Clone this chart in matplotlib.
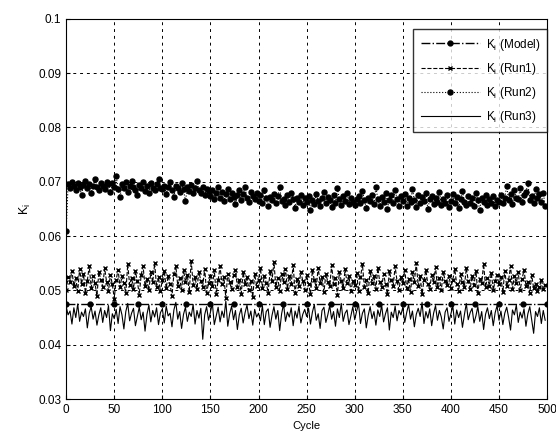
import numpy as np
import matplotlib.pyplot as plt

plt.rcParams['font.family'] = ['Liberation Sans', 'DejaVu Sans']

cycles = list(range(0, 500, 2))

run2 = [
    610, 695, 688, 700, 692, 685, 698, 690, 675, 694, 701, 688, 696, 680, 692, 705, 690, 684, 698, 693, 687, 700, 695, 682, 697,
    690, 710, 686, 672, 695, 688, 699, 681, 693, 702, 690, 685, 676, 694, 688, 700, 683, 692, 679, 697, 689, 684, 695, 705, 688,
    686, 693, 678, 690, 700, 684, 672, 692, 688, 681, 697, 686, 664, 690, 683, 694, 679, 688, 702, 685, 680, 691, 676, 687, 683,
    674, 684, 668, 679, 690, 671, 682, 665, 677, 686, 669, 680, 672, 659, 676, 684, 667, 678, 690, 670, 663, 681, 674, 668, 679,
    665, 676, 660, 684, 670, 655, 672, 666, 678, 661, 673, 690, 664, 669, 657, 675, 662, 680, 668, 652, 671, 663, 676, 658, 670,
    662, 673, 648, 667, 659, 678, 664, 656, 670, 681, 660, 672, 666, 654, 675, 661, 688, 668, 657, 673, 665, 680, 659, 670, 663,
    657, 669, 674, 660, 683, 666, 652, 671, 664, 676, 659, 690, 668, 655, 672, 663, 679, 650, 667, 675, 661, 684, 669, 656, 673,
    664, 678, 655, 670, 662, 686, 667, 653, 675, 660, 672, 664, 680, 650, 668, 674, 659, 671, 663, 682, 657, 669, 661, 676, 654,
    665, 678, 660, 672, 652, 668, 683, 663, 657, 674, 661, 670, 655, 679, 666, 648, 671, 662, 676, 658, 669, 660, 673, 656, 667,
    662, 675, 660, 670, 693, 666, 678, 659, 684, 671, 668, 688, 663, 676, 681, 697, 667, 674, 660, 686, 670, 677, 662, 680, 655,
]

run1 = [
    500, 525, 515, 536, 508, 522, 498, 540, 512, 530, 495, 518, 545, 505, 527, 513, 490, 534, 520, 507, 541, 516, 499, 529, 511,
    485, 520, 538, 506, 526, 514, 495, 548, 510, 523, 503, 535, 517, 492, 529, 544, 508, 521, 500, 533, 515, 550, 506, 524, 498,
    519, 536, 504, 527, 512, 489, 531, 545, 509, 522, 501, 538, 516, 528, 497, 555, 510, 525, 503, 534, 518, 507, 540, 496, 513,
    526, 508, 537, 493, 519, 544, 511, 524, 486, 531, 515, 502, 529, 538, 506, 520, 494, 533, 512, 525, 500, 518, 488, 530, 509,
    520, 541, 505, 527, 514, 496, 536, 518, 552, 507, 523, 499, 531, 515, 540, 503, 526, 512, 547, 495, 521, 509, 534, 517, 501,
    528, 511, 494, 537, 519, 505, 542, 514, 524, 497, 530, 516, 508, 546, 512, 522, 491, 533, 518, 504, 539, 513, 526, 499, 517,
    510, 532, 498, 524, 548, 507, 519, 495, 536, 514, 527, 502, 541, 516, 506, 530, 512, 493, 535, 520, 509, 544, 517, 501, 525,
    513, 538, 504, 521, 497, 533, 516, 550, 508, 526, 494, 519, 537, 511, 503, 529, 515, 543, 506, 522, 500, 534, 518, 510, 527,
    505, 520, 539, 512, 498, 530, 515, 507, 541, 518, 502, 526, 510, 535, 496, 521, 513, 549, 506, 523, 509, 532, 501, 517, 528,
    511, 524, 497, 536, 508, 519, 545, 503, 527, 514, 533, 500, 521, 538, 509, 516, 495, 528, 504, 512, 499, 506, 520, 503, 510,
]

run3 = [
    470, 455, 462, 438, 468, 450, 475, 443, 460, 452, 466, 431, 458, 470, 447, 462, 436, 455, 468, 441, 463, 450, 472, 426, 457,
    448, 465, 439, 470, 455, 429, 461, 476, 444, 458, 467, 435, 452, 469, 446, 460, 425, 456, 473, 442, 463, 451, 468, 437, 459,
    466, 440, 471, 453, 458, 433, 464, 478, 447, 461, 430, 456, 469, 443, 460, 452, 474, 438, 463, 449, 467, 410, 455, 470, 445,
    460, 476, 437, 453, 469, 442, 462, 450, 480, 434, 457, 471, 446, 463, 428, 455, 467, 440, 459, 473, 448, 462, 436, 465, 451,
    458, 444, 472, 437, 461, 466, 432, 454, 470, 447, 463, 426, 457, 475, 443, 460, 451, 468, 435, 462, 449, 471, 440, 456, 465,
    452, 467, 438, 460, 474, 445, 457, 430, 463, 469, 441, 455, 472, 447, 461, 434, 466, 450, 476, 443, 458, 464, 437, 453, 470,
    446, 462, 475, 439, 458, 466, 431, 454, 470, 448, 461, 436, 464, 452, 473, 442, 457, 468, 427, 460, 450, 471, 444, 463, 455,
    469, 441, 459, 474, 447, 462, 433, 456, 467, 452, 478, 439, 461, 449, 466, 435, 458, 472, 445, 463, 451, 429, 460, 468, 443,
    457, 471, 438, 464, 450, 462, 432, 455, 476, 446, 459, 467, 440, 453, 470, 443, 461, 428, 456, 468, 448, 463, 435, 459, 472,
    445, 462, 437, 458, 469, 450, 427, 464, 455, 473, 441, 460, 449, 466, 434, 457, 470, 446, 421, 461, 452, 468, 439, 463, 445,
]

model_value = 0.0475
model_cycles = [0, 500]

x = np.array(cycles)
r1 = np.array(run1) * 1e-4
r2 = np.array(run2) * 1e-4
r3 = np.array(run3) * 1e-4
xm = np.linspace(model_cycles[0], model_cycles[1], 21)
ym = np.full_like(xm, model_value)

fig = plt.figure(figsize=(5.56, 4.38), dpi=100)
ax = fig.add_axes([0.119, 0.089, 0.865, 0.868])

ax.plot(xm, ym, color='k', linestyle='-.', linewidth=1.0, marker='o', markersize=3.5,
        label='K$_\\mathregular{i}$ (Model)')
ax.plot(x, r1, color='k', linestyle='--', linewidth=0.8, marker='x', markersize=3.5,
        markeredgewidth=1.0, label='K$_\\mathregular{i}$ (Run1)')
ax.plot(x, r2, color='k', linestyle=':', linewidth=0.8, marker='o', markersize=3.6,
        label='K$_\\mathregular{i}$ (Run2)')
ax.plot(x, r3, color='k', linestyle='-', linewidth=0.8, label='K$_\\mathregular{i}$ (Run3)')

ax.set_xlim(0, 500)
ax.set_ylim(0.03, 0.1)
ax.set_xticks(range(0, 501, 50))
ax.set_yticks([0.03, 0.04, 0.05, 0.06, 0.07, 0.08, 0.09, 0.1])
ax.set_yticklabels(['0.03', '0.04', '0.05', '0.06', '0.07', '0.08', '0.09', '0.1'])
ax.tick_params(labelsize=8.5, direction='in', length=3)
ax.grid(True, color='k', linestyle=(0, (3, 4)), linewidth=0.7)
ax.set_xlabel('Cycle', fontsize=8)
ax.set_ylabel('K$_\\mathregular{i}$', fontsize=9)
ax.legend(loc='upper right', bbox_to_anchor=(1.0, 0.972), borderaxespad=0,
          fontsize=8.5, frameon=True, fancybox=False, edgecolor='k', numpoints=1,
          handlelength=5, borderpad=0.6, labelspacing=0.7, handletextpad=0.5)

fig.savefig('out.png', dpi=100)
